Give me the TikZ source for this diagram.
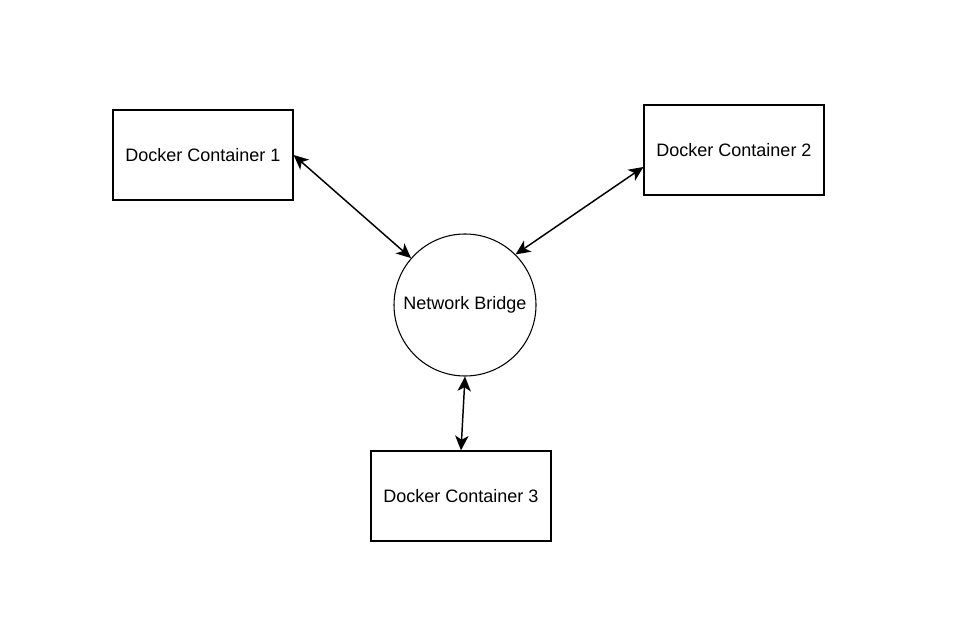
\documentclass[tikz,border=0pt]{standalone}
\usepackage{fontspec}
\setmainfont{Liberation Sans}
\usetikzlibrary{arrows.meta,calc}
\begin{document}
\begin{tikzpicture}[x=0.75pt,y=-0.75pt,
  box/.style={draw,line width=0.9pt,minimum width=135pt,minimum height=67.5pt,inner sep=0pt,font=\fontsize{13.5}{16}\selectfont},
  hub/.style={draw,circle,line width=0.8pt,minimum size=106.5pt,inner sep=0pt,font=\fontsize{13.5}{16}\selectfont},
  link/.style={line width=1.1pt,{Stealth[length=11pt,width=10pt,inset=3pt]}-{Stealth[length=11pt,width=10pt,inset=3pt]}}]
\useasboundingbox (0,0) rectangle (956,620);
\node[box] (c1) at (203,155) {Docker Container 1};
\node[box] (c2) at (734,150) {Docker Container 2};
\node[box] (c3) at (461,496) {Docker Container 3};
\node[hub] (nb) at (465,305) {Network Bridge};
\draw[link] (c1.east) -- (nb.139);
\draw[link] ($(c2.west)+(0,17)$) -- (nb.45);
\draw[link] (nb.south) -- (c3.north);
\end{tikzpicture}
\end{document}
